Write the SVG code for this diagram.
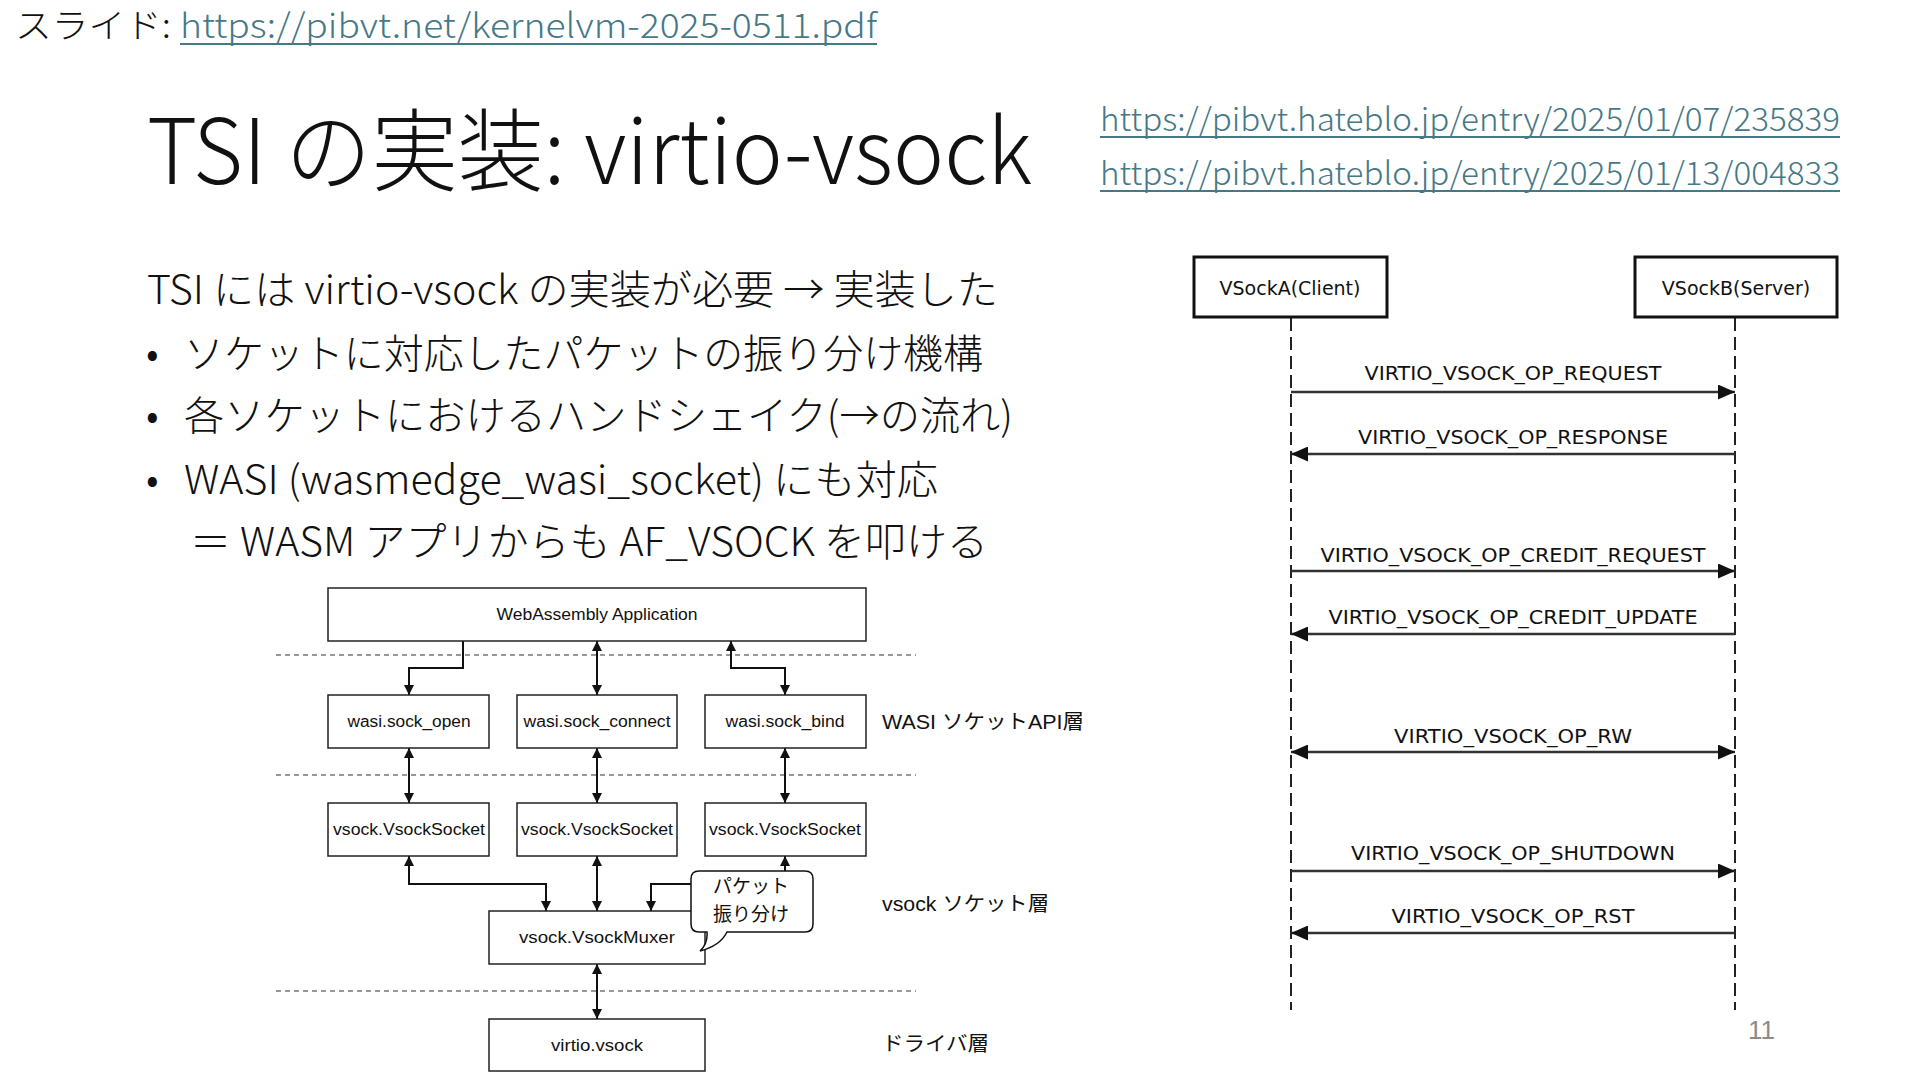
<svg xmlns="http://www.w3.org/2000/svg" width="1920" height="1080" viewBox="0 0 1920 1080">
<style>
.jp{font-family:"Noto Sans CJK JP","Noto Sans",sans-serif;font-weight:300;fill:#111}
.link{font-family:"Noto Sans CJK JP","Noto Sans",sans-serif;font-weight:300;fill:#467886}
.ul{stroke:#467886;stroke-width:2}
.box{fill:#fff;stroke:#222;stroke-width:1.5}
.lbl{font-family:"Liberation Sans",Arial,sans-serif;font-size:16px;fill:#111;text-anchor:middle}
.lay{font-family:"Liberation Sans","Noto Sans CJK JP",sans-serif;font-size:20px;fill:#111}
.sep{stroke:#333;stroke-width:1.2;stroke-dasharray:5 4;fill:none}
.con{stroke:#111;stroke-width:2;fill:none}
.sbox{fill:#fff;stroke:#111;stroke-width:3}
.slbl{font-family:"DejaVu Sans",Tahoma,sans-serif;font-size:19px;fill:#111;text-anchor:middle}
.life{stroke:#222;stroke-width:2;stroke-dasharray:13 6;fill:none}
.msg{stroke:#333;stroke-width:2.5;fill:none}
</style>
<defs>
<marker id="as" markerUnits="userSpaceOnUse" markerWidth="10" markerHeight="10" refX="10" refY="5" orient="auto-start-reverse" viewBox="0 0 10 10"><path d="M0,0 L10,5 L0,10 z" fill="#111"/></marker>
<marker id="al" markerUnits="userSpaceOnUse" markerWidth="17" markerHeight="15" refX="17" refY="7.5" orient="auto-start-reverse" viewBox="0 0 17 15"><path d="M0,0 L17,7.5 L0,15 z" fill="#111"/></marker>
</defs>
<rect width="1920" height="1080" fill="#fff"/>

<g id="header">
<text class="jp" x="15" y="38" font-size="34" textLength="156" lengthAdjust="spacingAndGlyphs">スライド:</text>
<text class="link" x="180" y="38" font-size="34" textLength="697" lengthAdjust="spacingAndGlyphs">https://pibvt.net/kernelvm-2025-0511.pdf</text>
<line class="ul" x1="180" y1="44" x2="877" y2="44"/>
</g>

<g id="title">
<text class="jp" x="147" y="184" font-size="90" textLength="885" lengthAdjust="spacingAndGlyphs">TSI の実装: virtio-vsock</text>
</g>

<g id="links">
<text class="link" x="1100" y="131" font-size="32" textLength="740" lengthAdjust="spacingAndGlyphs">https://pibvt.hateblo.jp/entry/2025/01/07/235839</text>
<line class="ul" x1="1100" y1="137" x2="1840" y2="137"/>
<text class="link" x="1100" y="185" font-size="32" textLength="740" lengthAdjust="spacingAndGlyphs">https://pibvt.hateblo.jp/entry/2025/01/13/004833</text>
<line class="ul" x1="1100" y1="191" x2="1840" y2="191"/>
</g>

<g id="body">
<text class="jp" x="147" y="304" font-size="40" textLength="851" lengthAdjust="spacingAndGlyphs">TSI には virtio-vsock の実装が必要 → 実装した</text>
<text class="jp" x="146" y="368" font-size="40">•</text>
<text class="jp" x="184" y="368" font-size="40" textLength="799" lengthAdjust="spacingAndGlyphs">ソケットに対応したパケットの振り分け機構</text>
<text class="jp" x="146" y="430" font-size="40">•</text>
<text class="jp" x="184" y="430" font-size="40" textLength="829" lengthAdjust="spacingAndGlyphs">各ソケットにおけるハンドシェイク(→の流れ)</text>
<text class="jp" x="146" y="494" font-size="40">•</text>
<text class="jp" x="184" y="494" font-size="40" textLength="754" lengthAdjust="spacingAndGlyphs">WASI (wasmedge_wasi_socket) にも対応</text>
<text class="jp" x="190" y="556" font-size="40" textLength="798" lengthAdjust="spacingAndGlyphs">＝ WASM アプリからも AF_VSOCK を叩ける</text>
</g>

<g id="separators">
<line class="sep" x1="276" y1="655" x2="916" y2="655"/>
<line class="sep" x1="276" y1="775" x2="916" y2="775"/>
<line class="sep" x1="276" y1="991" x2="916" y2="991"/>
</g>

<g id="connectors">
<path class="con" d="M463,641 V668 H409 V695" marker-end="url(#as)"/>
<path class="con" d="M597,641 V695" marker-start="url(#as)" marker-end="url(#as)"/>
<path class="con" d="M731,641 V668 H785 V695" marker-start="url(#as)" marker-end="url(#as)"/>
<path class="con" d="M409,748 V803" marker-start="url(#as)" marker-end="url(#as)"/>
<path class="con" d="M597,748 V803" marker-start="url(#as)" marker-end="url(#as)"/>
<path class="con" d="M785,748 V803" marker-start="url(#as)" marker-end="url(#as)"/>
<path class="con" d="M409,856 V884 H546 V911" marker-start="url(#as)" marker-end="url(#as)"/>
<path class="con" d="M597,856 V911" marker-start="url(#as)" marker-end="url(#as)"/>
<path class="con" d="M785,856 V884 H651 V911" marker-start="url(#as)" marker-end="url(#as)"/>
<path class="con" d="M597,964 V1019" marker-start="url(#as)" marker-end="url(#as)"/>
</g>

<g id="n-webapp"><rect class="box" x="328" y="588" width="538" height="53"/><text class="lbl" x="597" y="620" textLength="201" lengthAdjust="spacingAndGlyphs">WebAssembly Application</text></g>
<g id="n-sock-open"><rect class="box" x="328" y="695" width="161" height="53"/><text class="lbl" x="409" y="727" textLength="123" lengthAdjust="spacingAndGlyphs">wasi.sock_open</text></g>
<g id="n-sock-connect"><rect class="box" x="517" y="695" width="160" height="53"/><text class="lbl" x="597" y="727" textLength="147" lengthAdjust="spacingAndGlyphs">wasi.sock_connect</text></g>
<g id="n-sock-bind"><rect class="box" x="705" y="695" width="161" height="53"/><text class="lbl" x="785" y="727" textLength="119" lengthAdjust="spacingAndGlyphs">wasi.sock_bind</text></g>
<g id="n-vs1"><rect class="box" x="328" y="803" width="161" height="53"/><text class="lbl" x="409" y="835" textLength="152" lengthAdjust="spacingAndGlyphs">vsock.VsockSocket</text></g>
<g id="n-vs2"><rect class="box" x="517" y="803" width="160" height="53"/><text class="lbl" x="597" y="835" textLength="152" lengthAdjust="spacingAndGlyphs">vsock.VsockSocket</text></g>
<g id="n-vs3"><rect class="box" x="705" y="803" width="161" height="53"/><text class="lbl" x="785" y="835" textLength="152" lengthAdjust="spacingAndGlyphs">vsock.VsockSocket</text></g>
<g id="n-muxer"><rect class="box" x="489" y="911" width="216" height="53"/><text class="lbl" x="597" y="943" textLength="156" lengthAdjust="spacingAndGlyphs">vsock.VsockMuxer</text></g>
<g id="n-virtio"><rect class="box" x="489" y="1019" width="216" height="52"/><text class="lbl" x="597" y="1051" textLength="92" lengthAdjust="spacingAndGlyphs">virtio.vsock</text></g>

<g id="n-bubble">
<path d="M699,871 H805 Q813,871 813,879 V924 Q813,932 805,932 H727 Q720,946 700,951 Q708,944 707,932 H699 Q691,932 691,924 V879 Q691,871 699,871 Z" fill="#fff" stroke="#111" stroke-width="1.5"/>
<text class="jp" font-size="19" text-anchor="middle" style="font-weight:400"><tspan x="751" y="893">パケット</tspan><tspan x="751" y="921">振り分け</tspan></text>
</g>

<g id="layers">
<text class="lay" x="882" y="729" textLength="202" lengthAdjust="spacingAndGlyphs">WASI ソケットAPI層</text>
<text class="lay" x="882" y="911" textLength="167" lengthAdjust="spacingAndGlyphs">vsock ソケット層</text>
<text class="lay" x="882" y="1051" textLength="107" lengthAdjust="spacingAndGlyphs">ドライバ層</text>
</g>

<g id="lifelines">
<line class="life" x1="1291" y1="318" x2="1291" y2="1010"/>
<line class="life" x1="1735" y1="318" x2="1735" y2="1010"/>
</g>

<g id="n-vsockA"><rect class="sbox" x="1194" y="257" width="193" height="60"/><text class="slbl" x="1290" y="295">VSockA(Client)</text></g>
<g id="n-vsockB"><rect class="sbox" x="1635" y="257" width="202" height="60"/><text class="slbl" x="1736" y="295">VSockB(Server)</text></g>

<g id="messages">
<line class="msg" x1="1291" y1="392" x2="1735" y2="392" marker-end="url(#al)"/>
<text class="slbl" x="1513" y="380" textLength="297" lengthAdjust="spacingAndGlyphs">VIRTIO_VSOCK_OP_REQUEST</text>
<line class="msg" x1="1735" y1="454" x2="1291" y2="454" marker-end="url(#al)"/>
<text class="slbl" x="1513" y="444" textLength="310" lengthAdjust="spacingAndGlyphs">VIRTIO_VSOCK_OP_RESPONSE</text>
<line class="msg" x1="1291" y1="571" x2="1735" y2="571" marker-end="url(#al)"/>
<text class="slbl" x="1513" y="562" textLength="385" lengthAdjust="spacingAndGlyphs">VIRTIO_VSOCK_OP_CREDIT_REQUEST</text>
<line class="msg" x1="1735" y1="634" x2="1291" y2="634" marker-end="url(#al)"/>
<text class="slbl" x="1513" y="624" textLength="369" lengthAdjust="spacingAndGlyphs">VIRTIO_VSOCK_OP_CREDIT_UPDATE</text>
<line class="msg" x1="1291" y1="752" x2="1735" y2="752" marker-start="url(#al)" marker-end="url(#al)"/>
<text class="slbl" x="1513" y="743" textLength="238" lengthAdjust="spacingAndGlyphs">VIRTIO_VSOCK_OP_RW</text>
<line class="msg" x1="1291" y1="871" x2="1735" y2="871" marker-end="url(#al)"/>
<text class="slbl" x="1513" y="860" textLength="324" lengthAdjust="spacingAndGlyphs">VIRTIO_VSOCK_OP_SHUTDOWN</text>
<line class="msg" x1="1735" y1="933" x2="1291" y2="933" marker-end="url(#al)"/>
<text class="slbl" x="1513" y="923" textLength="243" lengthAdjust="spacingAndGlyphs">VIRTIO_VSOCK_OP_RST</text>
</g>

<text x="1748" y="1039" font-family="Liberation Sans, sans-serif" font-size="26" fill="#8c8c8c">11</text>
</svg>
